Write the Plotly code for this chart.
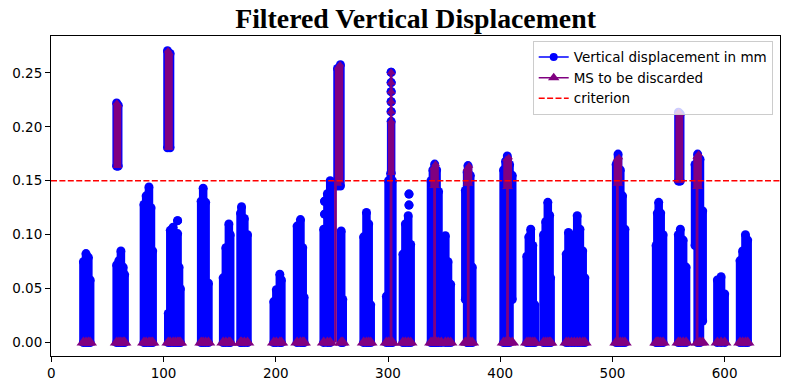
import plotly.graph_objects as go

# ---------------- data ----------------
# Each measurement-station column: position, min and max vertical displacement (mm)
ms_x = [
    28.6, 30.9, 33.0, 34.6,                                   # ~30
    58.2, 60.2, 62.0, 64.0, 65.3, 58.2, 59.6,                 # ~60 (+ upper band)
    82.5, 84.5, 87.0, 88.8, 90.3,                             # ~85
    103.5, 105.8,                                             # ~105 upper band
    104.2, 106.0, 108.5, 110.5, 112.5, 112.5, 113.8, 115.0,   # ~110
    133.5, 135.3, 137.5, 140.0,                               # ~135
    153.1, 155.5, 158.2, 159.4,                               # ~155
    168.6, 169.5, 172.0, 174.8,                               # ~170
    198.2, 200.5, 203.6, 205.0,                               # ~200
    219.0, 222.0, 224.0, 225.2,                               # ~220
    242.7, 243.5, 243.5, 246.0, 248.5,                        # ~245
    255.0, 257.6, 258.3, 259.7,                               # ~256
    278.3, 280.8, 282.8, 284.6,                               # ~280
    298.6, 300.5, 302.5, 303.9, 302.8,                        # ~302
    302.8, 302.8, 302.8, 302.8, 302.8,
    313.3, 315.5, 318.0, 320.2, 318.7, 318.7,                 # ~318
    338.3, 340.0, 341.6, 343.3, 345.0, 347.5, 351.1, 353.5, 355.8,  # ~345
    368.9, 370.5, 371.3, 373.3, 375.1,                        # ~372
    403.0, 404.8, 406.3, 408.3, 410.7,                        # ~406
    423.7, 425.5, 427.2, 429.0, 430.8,                        # ~427
    438.6, 440.5, 442.4, 444.0, 444.9,                        # ~442
    458.8, 460.8, 463.5, 466.0, 468.6, 471.0, 473.5, 475.4,   # ~465
    503.3, 505.0, 507.0, 509.0, 511.1,                        # ~505
    538.9, 540.0, 541.2, 543.0, 545.1,                        # ~541
    558.7, 560.5, 563.0, 565.6, 558.8, 560.4,                 # ~560 (+ upper band)
    573.6, 575.9, 578.0, 580.4,                               # ~577
    593.5, 596.8, 600.0,                                      # ~597
    613.7, 616.0, 618.5, 620.5,                               # ~618
]
ms_lo = [
    0, 0, 0, 0,
    0, 0, 0, 0, 0, 0.1635, 0.1635,
    0, 0, 0, 0, 0,
    0.1805, 0.1805,
    0, 0, 0, 0, 0, 0.113, 0, 0,
    0, 0, 0, 0,
    0, 0, 0, 0,
    0, 0, 0, 0,
    0, 0, 0, 0,
    0, 0, 0, 0,
    0, 0.131, 0.119, 0, 0,
    0.145, 0.145, 0, 0,
    0, 0, 0, 0,
    0, 0, 0, 0, 0.157,
    0.214, 0.2232, 0.2325, 0.2409, 0.2505,
    0, 0, 0, 0, 0.1274, 0.1376,
    0, 0, 0, 0, 0, 0, 0, 0, 0,
    0.04, 0, 0, 0, 0,
    0, 0, 0, 0, 0.04,
    0, 0, 0, 0, 0,
    0, 0, 0, 0, 0,
    0, 0, 0, 0, 0, 0, 0, 0,
    0, 0, 0, 0, 0,
    0, 0, 0, 0, 0,
    0, 0, 0, 0, 0.1496, 0.1496,
    0.09, 0, 0, 0.02,
    0, 0, 0,
    0, 0, 0, 0,
]
ms_hi = [
    0.075, 0.0825, 0.079, 0.058,
    0.072, 0.076, 0.085, 0.070, 0.063, 0.222, 0.220,
    0.128, 0.136, 0.1443, 0.125, 0.085,
    0.2705, 0.268,
    0.027, 0.104, 0.107, 0.098, 0.101, 0.113, 0.070, 0.050,
    0.131, 0.143, 0.130, 0.055,
    0.060, 0.088, 0.110, 0.100,
    0.120, 0.126, 0.115, 0.100,
    0.038, 0.049, 0.0634, 0.058,
    0.108, 0.114, 0.088, 0.042,
    0.105, 0.131, 0.119, 0.138, 0.150,
    0.254, 0.2575, 0.1035, 0.040,
    0.098, 0.1206, 0.110, 0.035,
    0.043, 0.150, 0.157, 0.150, 0.205,
    0.214, 0.2232, 0.2325, 0.2409, 0.2505,
    0.082, 0.110, 0.1175, 0.091, 0.1274, 0.1376,
    0.150, 0.160, 0.1654, 0.160, 0.140, 0.090, 0.099, 0.075, 0.054,
    0.141, 0.158, 0.164, 0.155, 0.070,
    0.160, 0.168, 0.173, 0.165, 0.155,
    0.080, 0.098, 0.105, 0.090, 0.035,
    0.100, 0.112, 0.130, 0.118, 0.060,
    0.082, 0.102, 0.095, 0.100, 0.1175, 0.105, 0.085, 0.060,
    0.165, 0.1747, 0.160, 0.136, 0.105,
    0.090, 0.120, 0.130, 0.120, 0.100,
    0.100, 0.105, 0.095, 0.070, 0.2134, 0.212,
    0.165, 0.1747, 0.170, 0.122,
    0.058, 0.061, 0.045,
    0.076, 0.085, 0.100, 0.095,
]

# Stations to be discarded (values above the criterion)
disc_x = [58.4, 59.4, 104.0, 105.3, 255.5, 257.2,
          302.8, 302.8, 302.8, 302.8, 302.8, 302.8,
          340.6, 342.4, 370.3, 372.2, 405.6, 407.6,
          504.0, 505.8, 559.0, 560.2, 575.0, 576.8]
disc_lo = [0.1635, 0.1635, 0.1805, 0.1805, 0.147, 0.150,
           0.157, 0.214, 0.2232, 0.2325, 0.2409, 0.2505,
           0.145, 0.145, 0.147, 0.147, 0.144, 0.144,
           0.147, 0.147, 0.1496, 0.1496, 0.144, 0.144]
disc_hi = [0.222, 0.220, 0.2705, 0.268, 0.255, 0.2575,
           0.205, 0.214, 0.2232, 0.2325, 0.2409, 0.2505,
           0.162, 0.1654, 0.161, 0.1638, 0.170, 0.1716,
           0.170, 0.1716, 0.2134, 0.212, 0.172, 0.1747]
# thin purple connections between discarded values (and from zero)
link_x = [253.2, 302.7, 302.8, 341.5, 371.5, 406.5, 504.4, 575.4]
link_lo = [0, 0, 0.205, 0, 0, 0, 0, 0]
link_hi = [0.150, 0.157, 0.2505, 0.145, 0.147, 0.144, 0.147, 0.144]

criterion = 0.15

x_ticks = [0, 100, 200, 300, 400, 500, 600]
y_ticks = [0.00, 0.05, 0.10, 0.15, 0.20, 0.25]

BLUE = "#0000ff"
PURPLE = "#800080"
RED = "#ff0000"

# ---------------- build traces ----------------
bx, by = [], []
for x, lo, hi in zip(ms_x, ms_lo, ms_hi):
    bx += [x, x, None]
    by += [lo, hi, None]

px_, py_ = [], []
for x, lo, hi in zip(disc_x, disc_lo, disc_hi):
    px_ += [x, x, None]
    py_ += [lo, hi, None]

lx, ly = [], []
for x, lo, hi in zip(link_x, link_lo, link_hi):
    lx += [x, x, None]
    ly += [lo, hi, None]

zero_x = [x for x, lo in zip(ms_x, ms_lo) if lo < 0.05]
zero_y = [0 for _ in zero_x]

fig = go.Figure()

fig.add_trace(go.Scatter(
    x=bx, y=by, mode="lines+markers", showlegend=False, hoverinfo="skip",
    line=dict(color=BLUE, width=8.5),
    marker=dict(symbol="circle", size=9, color=BLUE),
))
fig.add_trace(go.Scatter(
    x=lx, y=ly, mode="lines", showlegend=False, hoverinfo="skip",
    line=dict(color=PURPLE, width=2.8),
))
fig.add_trace(go.Scatter(
    x=px_, y=py_, mode="lines+markers", showlegend=False, hoverinfo="skip",
    line=dict(color=PURPLE, width=6.5),
    marker=dict(symbol="triangle-up", size=7.5, color=PURPLE),
))
fig.add_trace(go.Scatter(
    x=zero_x, y=zero_y, mode="markers", showlegend=False, hoverinfo="skip",
    marker=dict(symbol="triangle-up", size=12, color=PURPLE),
))

# legend entries
fig.add_trace(go.Scatter(
    x=[None], y=[None], mode="lines+markers", name="Vertical displacement in mm",
    line=dict(color=BLUE, width=1.5), marker=dict(symbol="circle", size=8, color=BLUE),
))
fig.add_trace(go.Scatter(
    x=[None], y=[None], mode="lines+markers", name="MS to be discarded",
    line=dict(color=PURPLE, width=1.5), marker=dict(symbol="triangle-up", size=10, color=PURPLE),
))
fig.add_trace(go.Scatter(
    x=[None], y=[None], mode="lines", name="criterion",
    line=dict(color=RED, width=1.5, dash="6px,2.4px"),
))

fig.add_shape(type="line", xref="paper", x0=0, x1=1, yref="y",
              y0=criterion, y1=criterion, layer="above",
              line=dict(color=RED, width=1.6, dash="6px,2.4px"))

axis_common = dict(
    showgrid=False, zeroline=False, showline=True, linecolor="black",
    linewidth=1, mirror=True, ticks="outside", ticklen=5, tickwidth=1,
    tickcolor="black", automargin=False,
    tickfont=dict(family="DejaVu Sans", size=13.5, color="black"),
)

fig.update_layout(
    width=790, height=390,
    margin=dict(l=51, r=10, t=36, b=34),
    paper_bgcolor="white", plot_bgcolor="white",
    title=dict(text="<b>Filtered Vertical Displacement</b>",
               font=dict(family="Liberation Serif", size=27.8, color="black"),
               x=0.526, xanchor="center", xref="container",
               y=0.952, yanchor="middle", yref="container"),
    xaxis=dict(range=[-0.3, 649.3], tickvals=x_ticks,
               ticktext=[str(v) for v in x_ticks], **axis_common),
    yaxis=dict(range=[-0.0124, 0.2841], tickvals=y_ticks,
               ticktext=[f"{v:.2f}" for v in y_ticks], **axis_common),
    legend=dict(x=0.99, y=0.985, xanchor="right", yanchor="top",
                bgcolor="rgba(255,255,255,0.8)", bordercolor="#cccccc", borderwidth=1,
                font=dict(family="DejaVu Sans", size=13.5, color="black"),
                tracegroupgap=0, itemwidth=30),
    showlegend=True,
)

fig.write_html("out.html", config={"displayModeBar": False},
               post_script="document.body.style.margin='0';document.body.style.padding='0';")
